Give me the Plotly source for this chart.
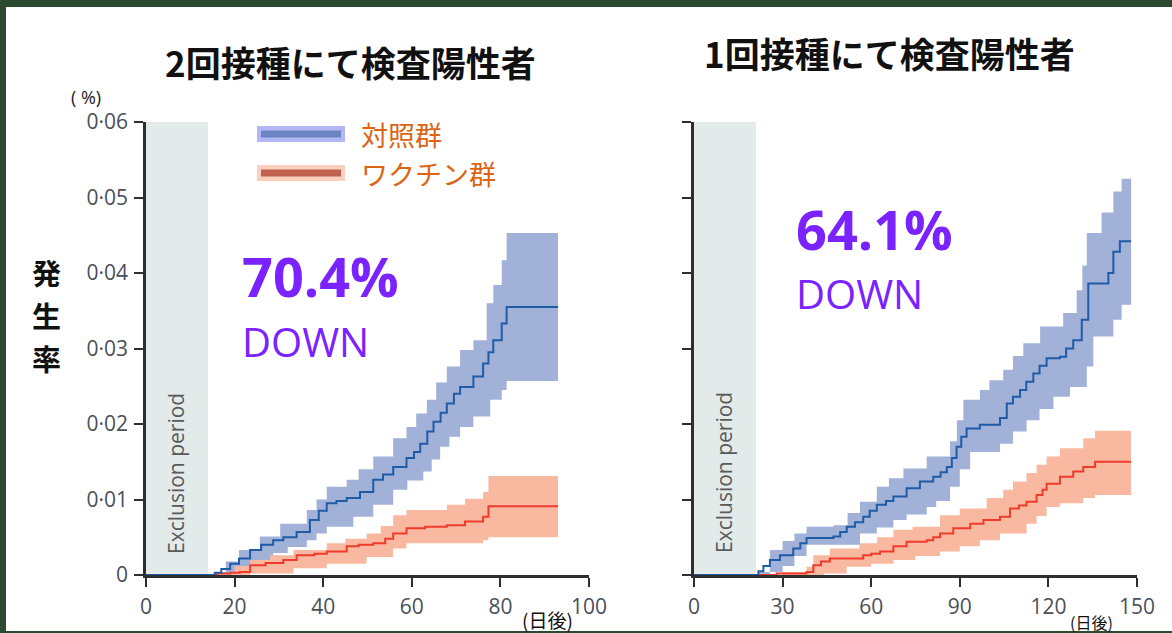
import plotly.graph_objects as go

W, H = 1172, 633

# ---- data: cumulative incidence (%), step curves with 95% bands ----
# two-dose panel
d2_ctrl_days = [0, 15.5, 17, 19, 21, 23.5, 26, 28.7, 31, 34, 37, 39, 40.8, 43, 45.3, 48.3, 51.3, 53.5, 55.8,
                58.8, 60.5, 61.9, 63.5, 64.9, 66.5, 67.9, 69.5, 70.9, 73.9, 76.1, 77.3, 78.4, 80.3, 81.4, 93]
d2_ctrl = [0, 0.0003, 0.0008, 0.0015, 0.0022, 0.0033, 0.004, 0.0046, 0.005, 0.0057, 0.0073, 0.0085, 0.0095,
           0.0098, 0.0102, 0.011, 0.0126, 0.0133, 0.0143, 0.0155, 0.0163, 0.0174, 0.019, 0.0203, 0.0215, 0.0227,
           0.024, 0.0249, 0.0263, 0.028, 0.0295, 0.0311, 0.0333, 0.0355, 0.0355]
d2_ctrl_hi_days = [15.5, 18, 21, 25.7, 30.3, 36.3, 38.5, 40.8, 45.3, 48, 51.3, 55.8, 58.8, 61, 63.4, 65.5,
                   67.9, 70.9, 73.9, 76.9, 78.4, 80.3, 81.4, 93]
d2_ctrl_hi = [0.0004, 0.0018, 0.0033, 0.0051, 0.0068, 0.0086, 0.01, 0.0117, 0.0126, 0.014, 0.0157, 0.0181,
              0.0196, 0.0214, 0.0232, 0.0255, 0.0276, 0.0298, 0.0311, 0.036, 0.0384, 0.0417, 0.0453, 0.0453]
d2_ctrl_lo_days = [15.5, 21.2, 25, 28.7, 32, 36.3, 38.5, 40.8, 46.8, 51.3, 55.8, 59, 62.6, 64.5, 66.4, 68.5,
                   70.9, 73.9, 77.7, 80.3, 81.4, 93]
d2_ctrl_lo = [0, 0.0004, 0.0017, 0.0029, 0.0037, 0.0046, 0.0055, 0.0064, 0.0077, 0.0093, 0.0113, 0.0125,
              0.0137, 0.0153, 0.017, 0.0183, 0.0196, 0.021, 0.0232, 0.0245, 0.0257, 0.0257]

d2_vac_days = [0, 16, 19, 21.2, 23.5, 27, 31, 34, 38, 40.8, 45.3, 48, 51.3, 54, 55.8, 58.8, 63, 67.9, 72,
               76.1, 77.3, 93]
d2_vac = [0, 0.0002, 0.0003, 0.0004, 0.0013, 0.0016, 0.002, 0.0026, 0.0028, 0.0031, 0.0038, 0.004, 0.0042,
          0.0048, 0.0055, 0.0062, 0.0064, 0.0066, 0.0071, 0.0077, 0.0091, 0.0091]
d2_vac_hi_days = [16, 20, 23.5, 28, 33.3, 40.8, 45, 49.8, 53, 55.8, 58.8, 67.9, 72, 76.1, 77.3, 93]
d2_vac_hi = [0.0002, 0.0012, 0.002, 0.0026, 0.0033, 0.0042, 0.0048, 0.0055, 0.0065, 0.0079, 0.0086, 0.0093,
             0.0101, 0.011, 0.0131, 0.0131]
d2_vac_lo_days = [16, 23.5, 33.3, 40.8, 49.8, 55.8, 58.8, 76.1, 77.3, 93]
d2_vac_lo = [0, 0.0002, 0.0009, 0.0015, 0.0024, 0.0035, 0.0042, 0.0046, 0.005, 0.005]

# one-dose panel
d1_ctrl_days = [0, 21.8, 23.5, 25.7, 29.1, 33.6, 36, 38.1, 47.2, 49.5, 51.7, 54.5, 57.3, 59.5, 61.9, 65, 67.5,
                72, 76.5, 81, 83.5, 85.6, 87.3, 88.9, 90.5, 92.3, 96.8, 103.6, 105.9, 108, 110.4, 112.5, 114.9,
                117, 119.4, 123.9, 126, 128.4, 131.3, 133.5, 140.3, 142, 144.2, 148]
d1_ctrl = [0, 0.0005, 0.0012, 0.002, 0.0026, 0.0035, 0.0042, 0.0049, 0.0051, 0.0057, 0.0064, 0.007, 0.0077,
           0.0085, 0.0093, 0.0098, 0.0104, 0.0115, 0.0124, 0.013, 0.0136, 0.0143, 0.0155, 0.017, 0.0183, 0.0194,
           0.0199, 0.0208, 0.0227, 0.0236, 0.0245, 0.0256, 0.0267, 0.0277, 0.0287, 0.0289, 0.03, 0.0311, 0.0338,
           0.0386, 0.04, 0.0428, 0.0442, 0.0442]
d1_ctrl_hi_days = [21.8, 25.7, 30, 34, 38.1, 47.2, 52, 56.2, 61.9, 66, 70.9, 78.8, 86.7, 89, 91.2, 96.8, 100,
                   104.7, 108, 111.5, 117.2, 125, 129.6, 131.5, 133, 138, 142, 144.8, 148]
d1_ctrl_hi = [0.0004, 0.0033, 0.0045, 0.0055, 0.0064, 0.0066, 0.0082, 0.0097, 0.0117, 0.0128, 0.0141, 0.0157,
              0.0177, 0.0205, 0.0232, 0.0245, 0.0258, 0.0272, 0.029, 0.0307, 0.0329, 0.0347, 0.0377, 0.041,
              0.0453, 0.048, 0.0508, 0.0525, 0.0525]
d1_ctrl_lo_days = [21.8, 25.7, 30, 34, 38.1, 47.2, 56.2, 61.9, 67.5, 72, 78.8, 82, 86.7, 90, 93.5, 103.6, 108,
                   112.6, 117, 121.7, 127.3, 133, 135.2, 142, 144.8, 148]
d1_ctrl_lo = [0, 0.0004, 0.0012, 0.0025, 0.004, 0.004, 0.0055, 0.0063, 0.0073, 0.008, 0.009, 0.0098, 0.0117,
              0.014, 0.0163, 0.0174, 0.019, 0.0205, 0.022, 0.0236, 0.0249, 0.0276, 0.0316, 0.0338, 0.0358, 0.0358]

d1_vac_days = [0, 22, 28, 38.1, 40.4, 43, 46, 57.3, 60, 63, 67.5, 72, 78.8, 81, 83.3, 87.8, 93.5, 98, 103.6,
               107, 110, 112.6, 116, 118, 119.4, 123.9, 128.4, 131.8, 135.8, 148]
d1_vac = [0, 0, 0.0002, 0.0004, 0.0013, 0.0018, 0.0022, 0.0026, 0.0028, 0.0031, 0.0038, 0.0044, 0.0046, 0.005,
          0.0055, 0.0062, 0.0068, 0.0073, 0.0077, 0.0088, 0.0092, 0.0097, 0.0106, 0.0113, 0.0121, 0.013, 0.0137,
          0.0143, 0.015, 0.015]
d1_vac_hi_days = [22, 30, 38.1, 40.4, 46, 56, 62, 67.5, 74, 83.3, 90, 99.1, 104.7, 108, 112.6, 116, 119.4,
                  123.9, 131.8, 135.8, 148]
d1_vac_hi = [0, 0.0004, 0.0011, 0.0026, 0.0035, 0.0042, 0.005, 0.006, 0.0064, 0.0079, 0.0088, 0.0102, 0.0113,
             0.0124, 0.0135, 0.0146, 0.0157, 0.0168, 0.0181, 0.0191, 0.0191]
d1_vac_lo_days = [22, 44, 51.7, 60, 67.5, 75, 83.3, 90, 96.8, 103.6, 112.6, 116, 119.4, 123.9, 131.8, 135.8, 148]
d1_vac_lo = [0, 0.0002, 0.0011, 0.0015, 0.002, 0.0025, 0.0031, 0.0038, 0.0046, 0.0055, 0.0068, 0.0078, 0.009,
             0.0095, 0.0102, 0.0106, 0.0106]

y_ticks = [0, 0.01, 0.02, 0.03, 0.04, 0.05, 0.06]
y_tick_text = ["0", "0·01", "0·02", "0·03", "0·04", "0·05", "0·06"]
x_ticks_2dose = [0, 20, 40, 60, 80, 100]
x_ticks_1dose = [0, 30, 60, 90, 120, 150]
exclusion_2dose = 14
exclusion_1dose = 21

panel_titles = ["2回接種にて検査陽性者", "1回接種にて検査陽性者"]
reductions = ["70.4%", "64.1%"]
legend_labels = ["対照群", "ワクチン群"]
y_title_chars = ["発", "生", "率"]

# ---- styling ----
BLUE_LINE, BLUE_BAND = "#1f5ca8", "#a1b1d8"
RED_LINE, RED_BAND = "#ee3b2b", "#f8b9a0"
PURPLE = "#7a22ff"
ORANGE = "#dc6412"
TICK_COLOR = "#4a4f5a"
AXIS_COLOR = "#2e2e2e"
JP_FONT = "Noto Sans CJK JP"
NUM_FONT = "Open Sans"


def px(x):
    return x / W


def py(y):
    return 1 - y / H


fig = go.Figure()


def add_band(days_hi, hi, days_lo, lo, color, xa, ya):
    fig.add_trace(go.Scatter(x=days_hi, y=hi, mode="lines", line=dict(width=0, shape="hv"),
                             xaxis=xa, yaxis=ya, showlegend=False, hoverinfo="skip"))
    fig.add_trace(go.Scatter(x=days_lo, y=lo, mode="lines", line=dict(width=0, shape="hv"),
                             fill="tonexty", fillcolor=color,
                             xaxis=xa, yaxis=ya, showlegend=False, hoverinfo="skip"))


def add_step(days, vals, color, xa, ya):
    fig.add_trace(go.Scatter(x=days, y=vals, mode="lines", line=dict(color=color, width=2, shape="hv"),
                             xaxis=xa, yaxis=ya, showlegend=False))


add_band(d2_ctrl_hi_days, d2_ctrl_hi, d2_ctrl_lo_days, d2_ctrl_lo, BLUE_BAND, "x", "y")
add_band(d2_vac_hi_days, d2_vac_hi, d2_vac_lo_days, d2_vac_lo, RED_BAND, "x", "y")
add_step(d2_vac_days, d2_vac, RED_LINE, "x", "y")
add_step(d2_ctrl_days, d2_ctrl, BLUE_LINE, "x", "y")

add_band(d1_ctrl_hi_days, d1_ctrl_hi, d1_ctrl_lo_days, d1_ctrl_lo, BLUE_BAND, "x2", "y2")
add_band(d1_vac_hi_days, d1_vac_hi, d1_vac_lo_days, d1_vac_lo, RED_BAND, "x2", "y2")
add_step(d1_vac_days, d1_vac, RED_LINE, "x2", "y2")
add_step(d1_ctrl_days, d1_ctrl, BLUE_LINE, "x2", "y2")

axis_common = dict(showline=True, linecolor=AXIS_COLOR, linewidth=2.5, ticks="outside", ticklen=9,
                   tickwidth=2, tickcolor=AXIS_COLOR, showgrid=False, zeroline=False, automargin=False,
                   tickfont=dict(family=NUM_FONT, size=21, color=TICK_COLOR))

y_dom = [py(575), py(122)]
fig.update_layout(
    template="none",
    width=W, height=H,
    margin=dict(l=0, r=0, t=0, b=0, pad=0),
    paper_bgcolor="#2c4a2f",
    plot_bgcolor="rgba(0,0,0,0)",
    showlegend=False,
    xaxis=dict(domain=[px(146), px(589)], range=[0, 100], tickvals=x_ticks_2dose, anchor="y",
               ticklabelstandoff=2, **axis_common),
    yaxis=dict(domain=y_dom, range=[0, 0.06], tickvals=y_ticks, ticktext=y_tick_text, anchor="x",
               ticklabelstandoff=2, **axis_common),
    xaxis2=dict(domain=[px(694), px(1137)], range=[0, 150], tickvals=x_ticks_1dose, anchor="y2",
                ticklabelstandoff=2, **axis_common),
    yaxis2=dict(domain=y_dom, range=[0, 0.06], tickvals=y_ticks, showticklabels=False, anchor="x2",
                **axis_common),
)

shapes = [
    # white slide area inside the green frame
    dict(type="rect", xref="paper", yref="paper", x0=px(6), x1=1.0, y0=py(631), y1=py(7),
         fillcolor="white", line=dict(width=0), layer="below"),
    # exclusion periods
    dict(type="rect", xref="x", yref="y", x0=0, x1=exclusion_2dose, y0=0, y1=0.06,
         fillcolor="#e3eaea", line=dict(width=0), layer="below"),
    dict(type="rect", xref="x2", yref="y2", x0=0, x1=exclusion_1dose, y0=0, y1=0.06,
         fillcolor="#e3eaea", line=dict(width=0), layer="below"),
]

# legend swatches (glowing bars)
for yc, glow, core in [(134, "#9c9ef2", "#6a86c2"), (173, "#f7c0a8", "#c0604f")]:
    shapes.append(dict(type="rect", xref="paper", yref="paper", x0=px(257), x1=px(345),
                       y0=py(yc + 8), y1=py(yc - 8), fillcolor=glow, line=dict(width=0), opacity=0.75))
    shapes.append(dict(type="rect", xref="paper", yref="paper", x0=px(261), x1=px(341),
                       y0=py(yc + 3.5), y1=py(yc - 3.5), fillcolor=core, line=dict(width=0)))
fig.update_layout(shapes=shapes)


def note(text, x, y, size, color, family, xanchor="center", yanchor="middle", angle=0, bold=False):
    if bold:
        text = f"<b>{text}</b>"
    fig.add_annotation(text=text, x=px(x), y=py(y), xref="paper", yref="paper", showarrow=False,
                       xanchor=xanchor, yanchor=yanchor, textangle=angle,
                       font=dict(size=size, color=color, family=family))


note(panel_titles[0], 350, 61, 35, "#111111", JP_FONT, bold=True)
note(panel_titles[1], 889, 52, 35, "#111111", JP_FONT, bold=True)

for ch, yc in zip(y_title_chars, [272, 315, 358]):
    note(ch, 46, yc, 29, "#111111", JP_FONT, bold=True)
note("( %)", 86, 97, 18, "#222222", NUM_FONT)

note("Exclusion period", 176, 474, 21, "#5a5a5a", NUM_FONT, angle=-90)
note("Exclusion period", 724, 473, 21, "#5a5a5a", NUM_FONT, angle=-90)

note(legend_labels[0], 359, 134, 27, ORANGE, JP_FONT, xanchor="left")
note(legend_labels[1], 359, 174, 27, ORANGE, JP_FONT, xanchor="left")

note(reductions[0], 240, 276, 54, PURPLE, NUM_FONT, xanchor="left", bold=True)
note("DOWN", 240, 341, 40, PURPLE, NUM_FONT, xanchor="left")
note(reductions[1], 794, 229, 54, PURPLE, NUM_FONT, xanchor="left", bold=True)
note("DOWN", 794, 293, 40, PURPLE, NUM_FONT, xanchor="left")

note("(日後)", 547, 619, 19, "#111111", JP_FONT)
note("(日後)", 1091, 622, 16, "#111111", JP_FONT)

fig.write_html("out.html")
